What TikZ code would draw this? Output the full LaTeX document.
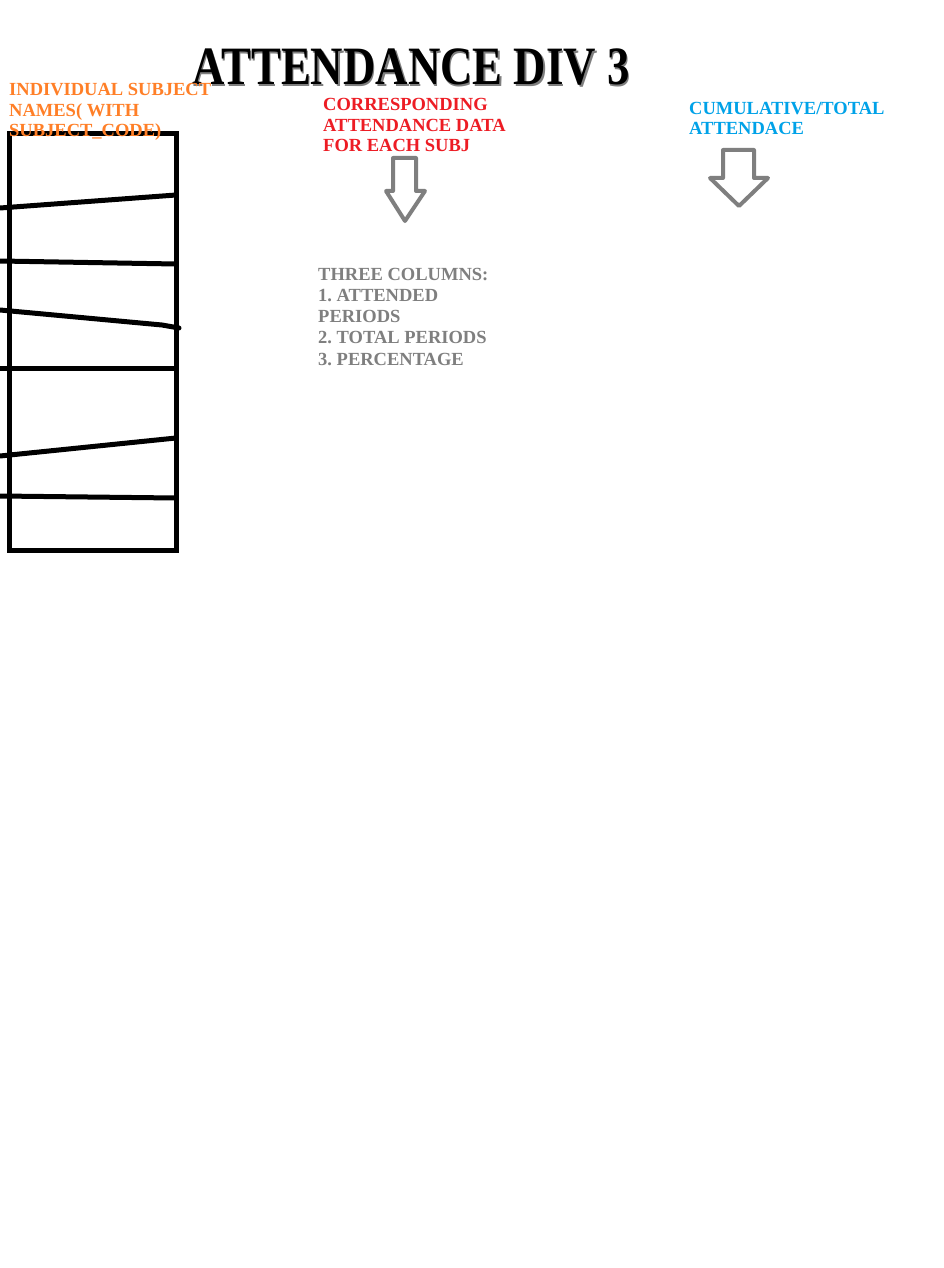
\documentclass[tikz,border=0pt]{standalone}
\usepackage{fontspec}
\setmainfont{Liberation Serif}
\usepackage{tikz}

\definecolor{paintorange}{HTML}{FF7F27}
\definecolor{paintred}{HTML}{ED1C24}
\definecolor{paintblue}{HTML}{00A2E8}
\definecolor{paintgray}{HTML}{7F7F7F}

\tikzset{
    note/.style={anchor=base west, inner sep=0pt, align=left,
        font=\fontsize{18.5}{20.5}\selectfont\bfseries\frenchspacing},
    wall/.style={line width=5pt, line cap=round},
    blockarrow/.style={draw=paintgray, line width=4pt, line join=round}
}

\begin{document}
\begin{tikzpicture}[x=1pt,y=-1pt]
    % Canvas
    \useasboundingbox[fill=white] (0,0) rectangle (944,1268);

    % Subject column
    \draw[line width=5pt] (9,134) rectangle (176,550);
    \draw[wall] (0,208) -- (176,195);
    \draw[wall] (0,261) -- (176,264);
    \draw[wall] (0,310) -- (162,325) -- (179,328);
    \draw[wall] (0,368) -- (176,368);
    \draw[wall] (0,456) -- (176,438);
    \draw[wall] (0,496) -- (176,498);

    % Title (with its shadow)
    \node[anchor=base west, inner sep=0pt, text=paintgray] at (193.5,86.5)
        {\fontsize{54}{60}\selectfont\bfseries\scalebox{0.83}[1]{ATTENDANCE DIV 3}};
    \node[anchor=base west, inner sep=0pt] (title) at (192,85)
        {\fontsize{54}{60}\selectfont\bfseries\scalebox{0.83}[1]{ATTENDANCE DIV 3}};

    % Labels (placed at the baseline of their last line)
    \node[note, text=paintorange] (names) at (9,137)
        {INDIVIDUAL SUBJECT\\NAMES( WITH\\SUBJECT\_CODE)};
    \node[note, text=paintred] (data) at (323,152)
        {CORRESPONDING\\ATTENDANCE DATA\\FOR EACH SUBJ};
    \node[note, text=paintblue] (total) at (689,135)
        {CUMULATIVE/TOTAL\\ATTENDACE};
    \node[note, text=paintgray, font=\fontsize{18.5}{21.2}\selectfont\bfseries\frenchspacing] (columns) at (318,365)
        {THREE COLUMNS:\\1. ATTENDED\\PERIODS\\2. TOTAL PERIODS\\3. PERCENTAGE};

    % Arrows
    \draw[blockarrow] (393,158) -- (416,158) -- (416,191) -- (425,191)
        -- (405,221) -- (386,191) -- (393,191) -- cycle;
    \draw[blockarrow] (723,150) -- (754,150) -- (754,178) -- (768,178)
        -- (739,206) -- (710,178) -- (723,178) -- cycle;
\end{tikzpicture}
\end{document}
